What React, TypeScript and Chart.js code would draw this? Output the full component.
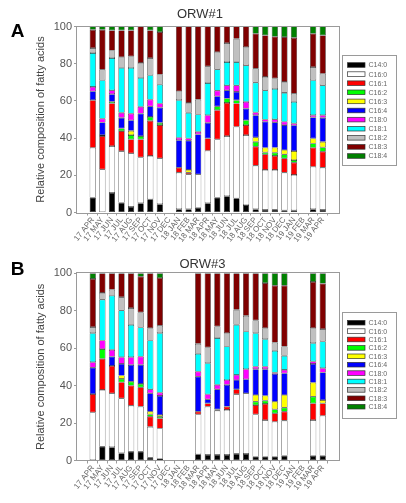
import React, { useEffect, useRef } from "react";
import { Chart, registerables } from "chart.js";

Chart.register(...registerables);

const FONT = 'Arial, "Liberation Sans", Helvetica, sans-serif';

const months = [
  "17 APR", "17 MAY", "17 JUN", "17 JUL", "17 AUG", "17 SEP", "17 OCT", "17 NOV", "17 DEC",
  "18 JAN", "18 FEB", "18 MAR", "18 APR", "18 MAY", "18 JUN", "18 JUL", "18 AUG", "18 SEP",
  "18 OCT", "18 NOV", "18 DEC", "19 JAN", "19 FEB", "19 MAR", "19 APR",
];

const fattyAcids = ["C14:0", "C16:0", "C16:1", "C16:2", "C16:3", "C16:4", "C18:0", "C18:1", "C18:2", "C18:3", "C18:4"];
const acidColors = ["#000000", "#ffffff", "#ff0000", "#00ff00", "#ffff00", "#0000ff", "#ff00ff", "#00ffff", "#c0c0c0", "#800000", "#008000"];

const yTicks = [0, 20, 40, 60, 80, 100];
const yTitle = "Relative composition of fatty acids";

// ---- ORW#1 ----
const A_C14_0 = [8, 0, 10.5, 5.2, 3, 5, 7.1, 4.5, null, 1.8, 1.8, 2.5, 5, 8, 8.8, 7.6, 4, 1.8, 1.4, 1.5, 1.2, 1.2, null, 1.8, 1.4];
const A_C16_0 = [26.8, 23.2, 25.2, 27.8, 28.8, 24.6, 23.3, 24.6, null, 19.6, 18.7, 18, 28.2, 31.3, 32.3, 38.5, 37.6, 23.4, 21.5, 21.4, 20.2, 19, null, 22.8, 22.7];
const A_C16_1 = [25.6, 17.9, 22.9, 10.8, 7.5, 9.7, 18.9, 17.9, null, 2.7, 0.9, 0, 6.6, 15.7, 17.8, 12.5, 5.4, 10.2, 8.4, 7.5, 7.7, 6.6, null, 10.2, 8.6];
const A_C16_2 = [0, 0.5, 0.9, 1.4, 2.3, 1.8, 2.1, 1.2, null, 0, 0, 0, 0, 2.1, 2.4, 1.8, 2.6, 2.6, 1, 1.8, 2.2, 1.4, null, 2.3, 2.3];
const A_C16_3 = [0, 0, 0, 0, 2.3, 0, 0, 0, null, 0, 1.5, 0, 0, 0, 0, 0, 0, 2.4, 2.5, 2.7, 2.3, 4.8, null, 2.7, 3];
const A_C16_4 = [4.8, 6.8, 4.1, 5.7, 5.7, 12.1, 5.7, 8.2, null, 14.8, 15.7, 21.5, 8.4, 5.4, 4.4, 4.4, 6.3, 11.9, 14, 13.6, 13.4, 13.9, null, 11.3, 12.9];
const A_C18_0 = [2.3, 2.1, 2.1, 2.7, 3.6, 3.6, 3.6, 2.2, null, 1.3, 1.2, 1.4, 4.1, 3, 2.7, 3.6, 3.6, 1.5, 1.2, 1.6, 1.8, 1, null, 1.2, 1.4];
const A_C18_1 = [18.2, 20.6, 17.3, 24.1, 24.5, 15.5, 13.1, 10.2, null, 20.2, 13.8, 9.3, 17.3, 11.5, 12.5, 12.5, 19.6, 16, 15.7, 16.3, 15.5, 11.6, null, 18.8, 16.1];
const A_C18_2 = [2.7, 5.7, 4.1, 5.9, 6.2, 8.1, 9.2, 5.4, null, 4.8, 5.3, 8, 9, 9.3, 10.2, 12.5, 9.8, 7.5, 7.2, 5.7, 5.9, 4.4, null, 7.1, 6.2];
const A_C18_3 = [9.8, 21.4, 10.8, 14.3, 14, 19.6, 14.9, 22.8, null, 34.8, 41.1, 39.3, 21.4, 13.7, 8.9, 6.6, 11.1, 18.8, 22.3, 22.4, 24.1, 30, null, 17.9, 20.6];
const A_C18_4 = [1.8, 1.8, 2.1, 2.1, 2.1, 0, 2.1, 3, null, 0, 0, 0, 0, 0, 0, 0, 0, 3.9, 4.8, 5.5, 5.7, 6.1, null, 3.9, 4.8];

// ---- ORW#3 ----
const B_C14_0 = [0, 7.4, 7.1, 3.9, 4.7, 4.7, 1.5, 0.9, null, null, null, 3.3, 3, 3, 3, 3.5, 3.5, 2, 2, 2, 2.5, null, null, 2.5, 2.5];
const B_C16_0 = [25.7, 30.3, 28.8, 29.3, 24.6, 24.1, 16.5, 16.2, null, null, null, 21.3, 25.8, 23.6, 24, 32, 32.4, 22.6, 19.6, 18.7, 18.8, null, null, 19.1, 21.4];
const B_C16_1 = [9.8, 16.6, 14.6, 8.6, 10.7, 10.3, 5.4, 5.4, null, null, null, 1.5, 1.7, 0.7, 1.8, 2.5, 0, 5, 8.6, 4.5, 4.8, null, null, 8.9, 6.6];
const B_C16_2 = [0, 5.2, 0, 1.8, 2.1, 1.8, 1.2, 0.9, null, null, null, 0, 0, 0, 0, 0, 0, 1.8, 1.8, 2.1, 2.1, null, null, 3.6, 0];
const B_C16_3 = [0, 0, 0, 1.8, 0, 0, 1.5, 0.9, null, null, null, 0, 0, 0, 0, 0, 0, 3.6, 2.6, 4.1, 6.8, null, null, 7.5, 1.8];
const B_C16_4 = [14.1, 0, 5, 6.2, 9, 10.2, 9.8, 10.2, null, null, null, 18.7, 2.2, 10.7, 11.6, 5, 7.5, 13.8, 14.2, 14.9, 11.6, null, null, 10, 14.7];
const B_C18_0 = [2.9, 4.6, 3.6, 3.6, 4.1, 4.4, 2.1, 1.8, null, null, null, 2.7, 2.7, 2.4, 2.6, 2.7, 5.4, 1.4, 1.4, 0.7, 1.8, null, null, 1.3, 2.3];
const B_C18_1 = [15.5, 21.8, 28.9, 25, 17.3, 15.6, 26.1, 31.7, null, null, null, 9.5, 16.6, 25, 17.9, 26.8, 20.1, 17.8, 14.6, 11.6, 7.5, null, null, 9.8, 14.3];
const B_C18_2 = [3.3, 3.6, 3.3, 7.1, 8.9, 8, 6.6, 4, null, null, null, 5.3, 8.4, 6.2, 7.1, 8, 8.4, 6.8, 5.9, 4.4, 5, null, null, 8, 6.6];
const B_C18_3 = [25.7, 10.5, 8.7, 12.7, 18.6, 19.1, 29.3, 25.5, null, null, null, 37.7, 39.6, 28.4, 32, 19.5, 22.7, 25.2, 24.1, 30.4, 32.5, null, null, 24.7, 24.3];
const B_C18_4 = [3, 0, 0, 0, 0, 1.8, 0, 2.5, null, null, null, 0, 0, 0, 0, 0, 0, 0, 5.2, 6.6, 6.6, null, null, 4.6, 5.5];

const seriesA = [A_C14_0, A_C16_0, A_C16_1, A_C16_2, A_C16_3, A_C16_4, A_C18_0, A_C18_1, A_C18_2, A_C18_3, A_C18_4];
const seriesB = [B_C14_0, B_C16_0, B_C16_1, B_C16_2, B_C16_3, B_C16_4, B_C18_0, B_C18_1, B_C18_2, B_C18_3, B_C18_4];

type Layout = {
  height: number;
  areaTop: number;
  areaBottom: number;
  title: string;
  letter: string;
  titleX: number;
  titleY: number;
  letterX: number;
  letterY: number;
  legendTop: number;
  legendH: number;
  legendFirst: number;
  legendStep: number;
};

const AREA_LEFT = 77;
const AREA_RIGHT = 339;

const decorPlugin = {
  id: "decor",
  afterDatasetsDraw(chart: any) {
    const { ctx, chartArea } = chart;
    ctx.save();
    ctx.strokeStyle = "#9a9a9a";
    ctx.lineWidth = 1;
    ctx.strokeRect(
      Math.round(chartArea.left) - 0.5,
      Math.round(chartArea.top) - 0.5,
      Math.round(chartArea.right - chartArea.left) + 1,
      Math.round(chartArea.bottom - chartArea.top) + 1
    );
    ctx.restore();
  },
  afterDraw(chart: any, _args: any, opts: any) {
    const { ctx, chartArea } = chart;
    ctx.save();
    ctx.fillStyle = "#333";
    ctx.font = `13px ${FONT}`;
    ctx.textAlign = "center";
    ctx.textBaseline = "middle";
    ctx.fillText(opts.title, opts.titleX, opts.titleY);
    ctx.fillStyle = "#000";
    ctx.font = `bold 19px ${FONT}`;
    ctx.fillText(opts.letter, opts.letterX, opts.letterY);
    const bx = chartArea.right + 2.5;
    const by = opts.legendTop;
    ctx.strokeStyle = "#9a9a9a";
    ctx.lineWidth = 1;
    ctx.strokeRect(Math.round(bx) + 0.5, Math.round(by) + 0.5, 54, opts.legendH);
    ctx.textAlign = "left";
    ctx.font = `7px ${FONT}`;
    chart.data.datasets.forEach((ds: any, i: number) => {
      const cy = by + opts.legendFirst + i * opts.legendStep;
      ctx.fillStyle = ds.backgroundColor;
      ctx.fillRect(bx + 6, cy - 2.3, 17.5, 4.6);
      ctx.strokeStyle = "#333";
      ctx.lineWidth = 0.7;
      ctx.strokeRect(bx + 6, cy - 2.3, 17.5, 4.6);
      ctx.fillStyle = "#666";
      ctx.fillText(ds.label, bx + 27, cy + 0.5);
    });
    ctx.restore();
  },
};

function buildConfig(series: (number | null)[][], L: Layout): any {
  const datasets = fattyAcids.map((name, k) => ({
    label: name,
    data: series[k].map((v, i) => ({ x: i, y: v === 0 ? null : v })),
    backgroundColor: acidColors[k],
    borderColor: "#222",
    borderWidth: 0.6,
    borderSkipped: false,
    barPercentage: 0.65,
    categoryPercentage: 1,
  }));
  return {
    type: "bar",
    data: { datasets },
    plugins: [decorPlugin],
    options: {
      responsive: false,
      animation: false,
      devicePixelRatio: 1,
      layout: { padding: { left: 0, top: L.areaTop, right: 406 - AREA_RIGHT, bottom: 0 } },
      plugins: {
        legend: { display: false },
        tooltip: { enabled: false },
        title: { display: false },
        decor: L,
      },
      scales: {
        x: {
          type: "linear",
          stacked: true,
          min: -1.1,
          max: 25.15,
          afterBuildTicks: (scale: any) => {
            scale.ticks = months.map((_, i) => ({ value: i }));
          },
          afterFit: (scale: any) => {
            scale.height = L.height - L.areaBottom;
          },
          border: { display: false },
          grid: { drawOnChartArea: false, drawTicks: true, tickLength: 3, color: "#9a9a9a" },
          ticks: {
            autoSkip: false,
            minRotation: 52,
            maxRotation: 52,
            padding: 0,
            color: "#666",
            font: { family: FONT, size: 8 },
            callback: (v: number) => months[v] ?? "",
          },
        },
        y: {
          stacked: true,
          min: 0,
          max: 100,
          afterBuildTicks: (scale: any) => {
            scale.ticks = yTicks.map((v) => ({ value: v }));
          },
          afterFit: (scale: any) => {
            scale.width = AREA_LEFT;
          },
          border: { display: false },
          grid: { drawOnChartArea: false, drawTicks: true, tickLength: 3, color: "#9a9a9a" },
          ticks: {
            padding: 2,
            color: "#555",
            font: { family: FONT, size: 11 },
          },
          title: {
            display: true,
            text: yTitle,
            color: "#444",
            font: { family: FONT, size: 11 },
            padding: { top: 34, bottom: 0 },
          },
        },
      },
    },
  };
}

function Panel({ series, layout, top }: { series: (number | null)[][]; layout: Layout; top: number }) {
  const ref = useRef<HTMLCanvasElement | null>(null);
  useEffect(() => {
    if (!ref.current) return;
    const chart = new Chart(ref.current, buildConfig(series, layout));
    return () => chart.destroy();
  }, []);
  return (
    <canvas
      ref={ref}
      width={406}
      height={layout.height}
      style={{ position: "absolute", left: 0, top, width: 406, height: layout.height }}
    />
  );
}

const layoutA: Layout = {
  height: 250,
  areaTop: 26.5,
  areaBottom: 212.5,
  title: "ORW#1",
  letter: "A",
  titleX: 200,
  titleY: 14,
  letterX: 17.5,
  letterY: 32,
  legendTop: 55,
  legendH: 110,
  legendFirst: 10,
  legendStep: 9.1,
};

const layoutB: Layout = {
  height: 253,
  areaTop: 23.3,
  areaBottom: 210.5,
  title: "ORW#3",
  letter: "B",
  titleX: 202.5,
  titleY: 14,
  letterX: 17.5,
  letterY: 20,
  legendTop: 62.3,
  legendH: 106,
  legendFirst: 10.4,
  legendStep: 8.4,
};

export default function App() {
  return (
    <div style={{ position: "fixed", left: 0, top: 0, width: 406, height: 503, background: "#fff", overflow: "hidden" }}>
      <Panel series={seriesA} layout={layoutA} top={0} />
      <Panel series={seriesB} layout={layoutB} top={250} />
    </div>
  );
}
